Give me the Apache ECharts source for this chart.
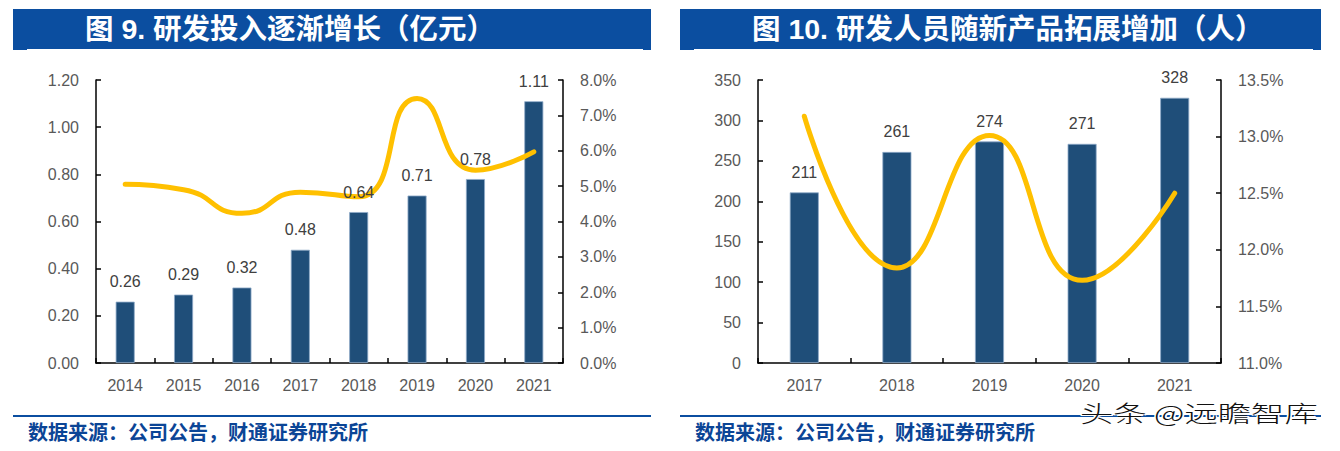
<!DOCTYPE html>
<html>
<head>
<meta charset="utf-8">
<script src="https://cdn.jsdelivr.net/npm/echarts@6/dist/echarts.min.js"></script>
<style>
html,body{margin:0;padding:0;background:#fff;width:1340px;height:451px;overflow:hidden;position:relative;}
#chart{position:absolute;left:0;top:0;width:1340px;height:451px;}
.banner{position:absolute;top:9px;height:41px;background:#0B4EA0;}
.banner .t{position:absolute;top:0;height:41px;line-height:41px;color:#fff;font-family:"Liberation Sans","Noto Sans CJK SC",sans-serif;font-weight:bold;font-size:28.5px;white-space:nowrap;}
.banner .u{position:absolute;left:14px;right:8px;bottom:0;height:1px;background:#fff;}
.fline{position:absolute;top:415px;height:2px;background:#0B4EA0;}
.src{position:absolute;top:420px;height:24px;line-height:24px;color:#0B4596;font-family:"Noto Sans CJK SC",sans-serif;font-weight:bold;font-size:20px;white-space:nowrap;}
.wm{position:absolute;left:1080px;top:400px;height:24px;line-height:24px;font-family:"Noto Sans CJK SC",sans-serif;font-weight:300;font-size:23px;color:#111;white-space:nowrap;transform:scaleX(1.45);transform-origin:0 50%;text-shadow:1px 1px 0 #fff,-1px -1px 0 #fff,1px -1px 0 #fff,-1px 1px 0 #fff;z-index:5;}
</style>
</head>
<body>
<div id="chart"></div>
<div class="banner" style="left:13px;width:638px;"><div class="t" style="left:72px;">图 9. 研发投入逐渐增长（亿元）</div><div class="u"></div></div>
<div class="banner" style="left:680px;width:641px;"><div class="t" style="left:72px;">图 10. 研发人员随新产品拓展增加（人）</div><div class="u"></div></div>
<div class="fline" style="left:13px;width:638px;"></div>
<div class="fline" style="left:680px;width:641px;"></div>
<div class="src" style="left:28px;">数据来源：公司公告，财通证券研究所</div>
<div class="src" style="left:695px;">数据来源：公司公告，财通证券研究所</div>
<div class="wm">头条 @远瞻智库</div>
<script>
// Chart 9: R&D investment (100M CNY) and share of revenue (%)
const years9 = ['2014','2015','2016','2017','2018','2019','2020','2021'];
const rdInvest = [0.26, 0.29, 0.32, 0.48, 0.64, 0.71, 0.78, 1.11];
const rdRatio = [5.05, 4.90, 4.23, 4.83, 4.70, 7.48, 5.45, 5.97];
// Chart 10: R&D staff (persons) and share (%)
const years10 = ['2017','2018','2019','2020','2021'];
const rdStaff = [211, 261, 274, 271, 328];
const staffRatio = [13.18, 11.84, 13.01, 11.73, 12.50];

const axisColor = '#000';
const labelColor = '#595959';
const fontFam = '"Liberation Sans", Arial, sans-serif';

function catAxis(grid, data){
  return {
    type:'category', gridIndex:grid, data:data,
    axisLine:{show:true, lineStyle:{color:axisColor, width:1.5}},
    axisTick:{show:true, inside:true, length:5, lineStyle:{color:axisColor, width:1.5}},
    axisLabel:{color:labelColor, fontSize:16, fontFamily:fontFam, margin:14},
    splitLine:{show:false}
  };
}
function valAxis(grid, pos, min, max, interval, fmt){
  return {
    type:'value', gridIndex:grid, position:pos, min:min, max:max, interval:interval,
    axisLine:{show:true, lineStyle:{color:axisColor, width:1.5}},
    axisTick:{show:true, inside:true, length:5, lineStyle:{color:axisColor, width:1.5}},
    axisLabel:{color:labelColor, fontSize:16, fontFamily:fontFam, margin:17, formatter:fmt},
    splitLine:{show:false}
  };
}
function barLabel(fmt){
  return {show:true, position:'top', distance:12, color:'#404040', fontSize:16, fontFamily:fontFam, formatter:fmt};
}

const chart = echarts.init(document.getElementById('chart'), null, {renderer:'svg'});
chart.setOption({
  animation:false,
  grid:[
    {left:96, top:80, width:467, height:283},
    {left:758, top:80, width:463, height:283}
  ],
  xAxis:[catAxis(0, years9), catAxis(1, years10)],
  yAxis:[
    valAxis(0,'left',0,1.2,0.2,v=>v.toFixed(2)),
    valAxis(0,'right',0,8,1,v=>v.toFixed(1)+'%'),
    valAxis(1,'left',0,350,50,v=>String(v)),
    valAxis(1,'right',11,13.5,0.5,v=>v.toFixed(1)+'%')
  ],
  series:[
    {type:'bar', xAxisIndex:0, yAxisIndex:0, data:rdInvest, barWidth:19, z:2,
     itemStyle:{color:'#1F4E79', borderColor:'#8EA9C8', borderWidth:0.8}},
    {type:'line', xAxisIndex:0, yAxisIndex:1, data:rdRatio, smooth:0.55, symbol:'none', z:3,
     lineStyle:{color:'#FFC000', width:5, cap:'round'}},
    {type:'bar', xAxisIndex:0, yAxisIndex:0, data:rdInvest, barWidth:19, barGap:'-100%', z:5, silent:true,
     itemStyle:{color:'rgba(0,0,0,0)'}, label:barLabel(p=>p.value.toFixed(2))},
    {type:'bar', xAxisIndex:1, yAxisIndex:2, data:rdStaff, barWidth:29, z:2,
     itemStyle:{color:'#1F4E79', borderColor:'#8EA9C8', borderWidth:0.8}},
    {type:'line', xAxisIndex:1, yAxisIndex:3, data:staffRatio, smooth:0.5, symbol:'none', z:3,
     lineStyle:{color:'#FFC000', width:5, cap:'round'}},
    {type:'bar', xAxisIndex:1, yAxisIndex:2, data:rdStaff, barWidth:29, barGap:'-100%', z:5, silent:true,
     itemStyle:{color:'rgba(0,0,0,0)'}, label:barLabel(p=>String(p.value))}
  ]
});
</script>
</body>
</html>
